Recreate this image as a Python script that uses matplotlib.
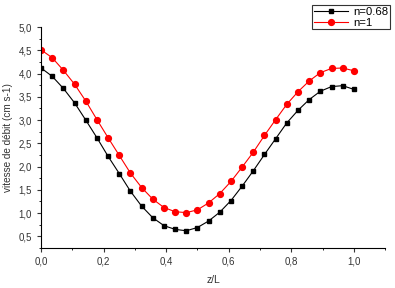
import numpy as np
import matplotlib
matplotlib.use('Agg')
import matplotlib.pyplot as plt
from matplotlib.ticker import MultipleLocator, FuncFormatter

plt.rcParams['font.family'] = ['Liberation Sans', 'DejaVu Sans']

# z/L positions: 29 equally spaced samples from 0 to 1
z = np.linspace(0, 1, 29)

v_068 = [4.12, 3.94, 3.68, 3.37, 3.00, 2.62, 2.22, 1.85, 1.47, 1.15,
         0.90, 0.73, 0.65, 0.62, 0.69, 0.83, 1.02, 1.27, 1.58, 1.91,
         2.26, 2.60, 2.94, 3.21, 3.44, 3.62, 3.72, 3.74, 3.66]
v_1 = [4.51, 4.34, 4.07, 3.77, 3.41, 3.01, 2.62, 2.24, 1.86, 1.55,
       1.30, 1.12, 1.03, 1.01, 1.07, 1.22, 1.42, 1.68, 1.99, 2.31,
       2.67, 3.01, 3.34, 3.61, 3.84, 4.02, 4.11, 4.12, 4.06]

fig = plt.figure(figsize=(3.95, 2.88), dpi=100)
ax = fig.add_axes([0.104, 0.139, 0.871, 0.767])

ax.plot(z, v_068, color='black', marker='s', markersize=3.5, linewidth=0.8,
        label='n=0.68')
ax.plot(z, v_1, color='red', marker='o', markersize=4.2, linewidth=0.8,
        label='n=1')

ax.set_xlim(0, 1.1)
ax.set_ylim(0.25, 5.0)
ax.spines['top'].set_visible(False)
ax.spines['right'].set_visible(False)

ax.xaxis.set_major_locator(MultipleLocator(0.2))
ax.xaxis.set_minor_locator(MultipleLocator(0.1))
ax.yaxis.set_major_locator(MultipleLocator(0.5))
ax.yaxis.set_minor_locator(MultipleLocator(0.25))
comma = FuncFormatter(lambda v, p: ('%.1f' % v).replace('.', ','))
ax.xaxis.set_major_formatter(comma)
ax.yaxis.set_major_formatter(comma)
ax.tick_params(which='major', direction='out', length=3, width=0.8,
               labelsize=7, colors='#333333')
ax.tick_params(which='minor', direction='out', length=1.5, width=0.6)

ax.set_xlabel('z/L', fontsize=7.5, color='#333333', labelpad=6)
ax.set_ylabel('vitesse de débit (cm s-1)', fontsize=7.2, color='#333333')

leg = fig.legend(loc='upper right', bbox_to_anchor=(0.997, 0.995), fontsize=8.2,
                 fancybox=False, edgecolor='#333333', framealpha=1,
                 borderpad=0.15, handlelength=3.0, labelspacing=0.1,
                 borderaxespad=0.3, handletextpad=0.5)
leg.get_frame().set_linewidth(0.8)

fig.savefig('out.png', dpi=100)
